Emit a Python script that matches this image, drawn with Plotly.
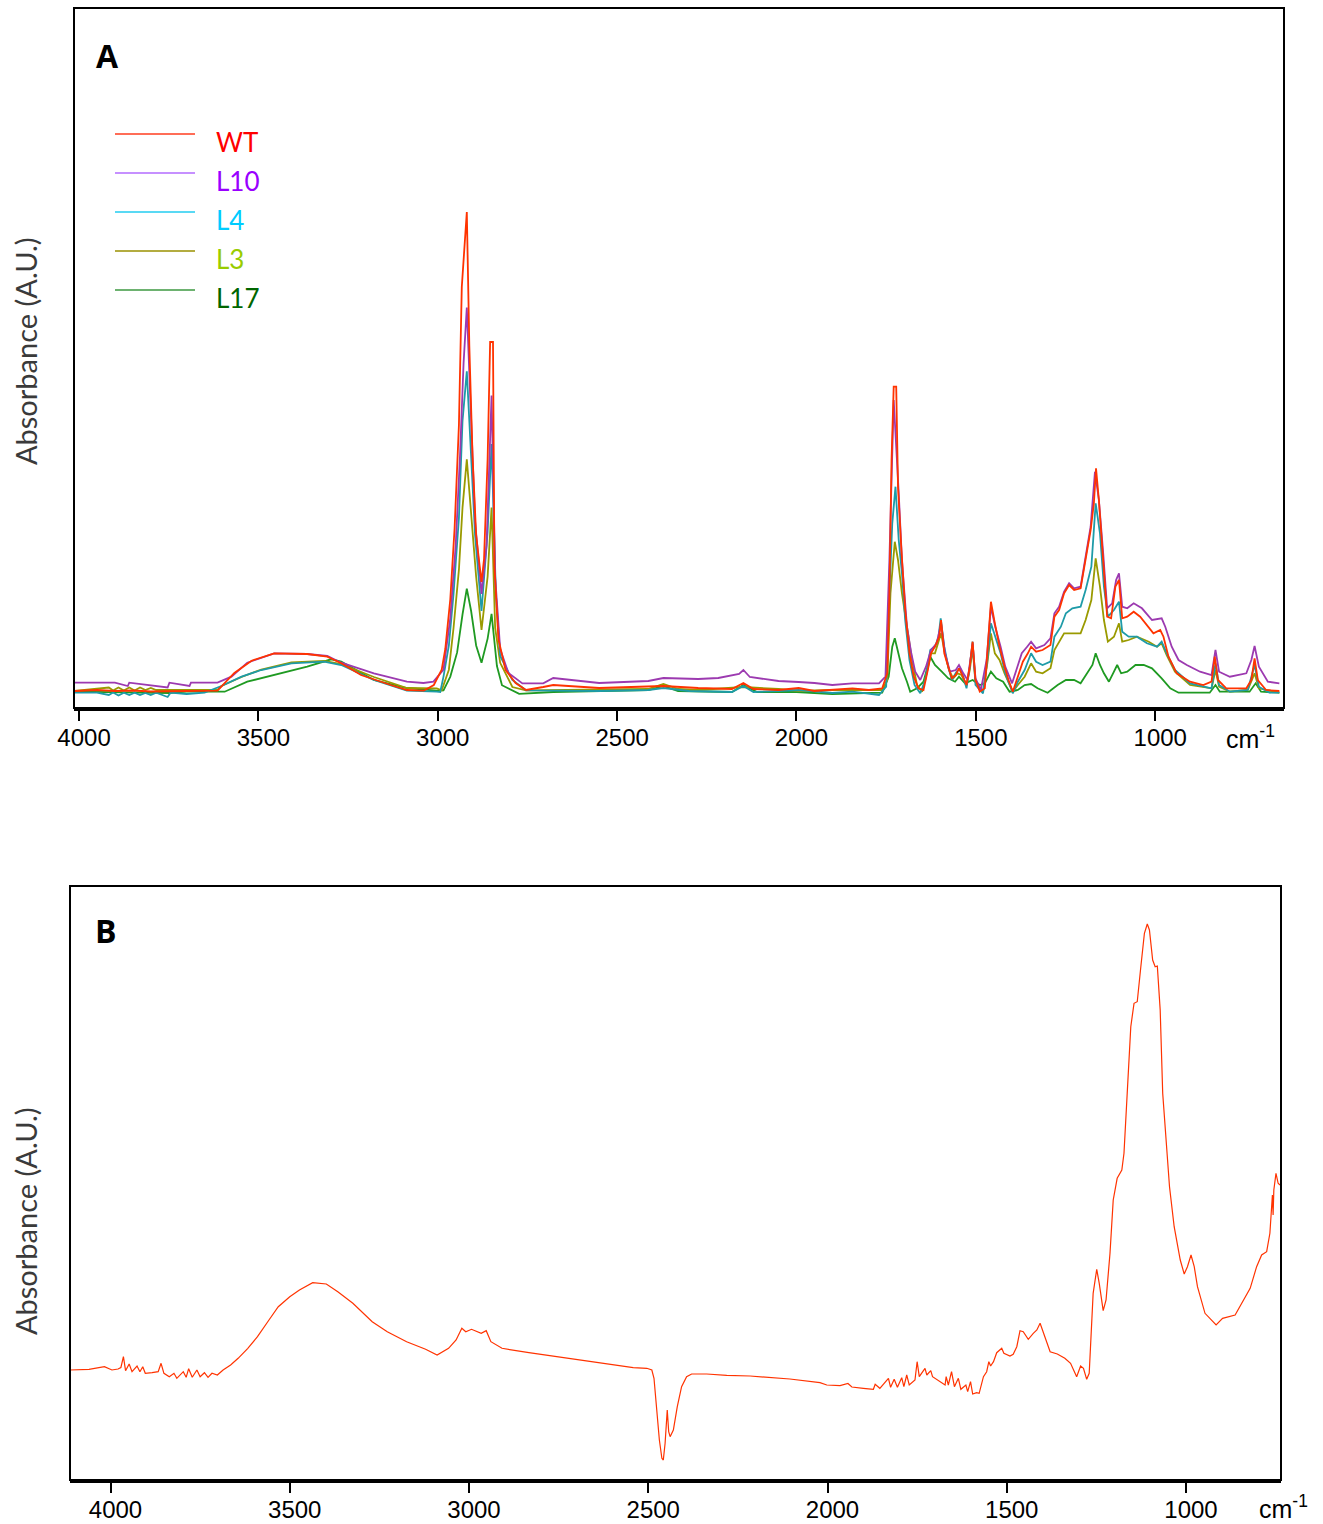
import plotly.graph_objects as go

# ---------------- Panel A data (wavenumber cm-1, absorbance A.U.) ----------------
WT = [(4012, 17), (3950, 18), (3900, 17), (3850, 17.5), (3800, 16.5), (3750, 17), (3700, 17), (3614, 17.3),
      (3567, 35), (3519, 47.3), (3456, 54.7), (3364, 54), (3308, 51.3), (3269, 44.7), (3214, 33), (3131, 23),
      (3086, 18), (3039, 17.3), (3011, 23), (2989, 38.3), (2979, 59), (2965, 109), (2953, 180), (2941, 283),
      (2933, 421), (2919, 496), (2912, 362), (2903, 252), (2893, 173), (2878, 126), (2871, 149), (2861, 249),
      (2854, 366), (2846, 366), (2842, 142), (2831, 69), (2811, 38), (2783, 25), (2754, 18), (2706, 21),
      (2678, 23), (2550, 20), (2413, 21), (2371, 22), (2274, 20), (2180, 19), (2148, 25), (2120, 19),
      (2050, 18), (1994, 20), (1950, 17), (1900, 18),
      (1844, 19.7), (1798, 18), (1761, 19.7), (1747, 34.7), (1741, 114.7), (1735, 248), (1729, 321.3),
      (1722, 321.3), (1717, 221.3), (1708, 161.3), (1697, 98), (1685, 54.7), (1673, 31.3), (1660, 19.7),
      (1646, 18), (1634, 38), (1625, 54.7), (1614, 61.3), (1602, 71.3), (1597, 88), (1588, 54.7),
      (1577, 41.3), (1567, 29.7), (1556, 33), (1547, 39.7), (1538, 33), (1526, 23), (1517, 41.3),
      (1509, 66.3), (1501, 28), (1489, 16.3), (1475, 19.7), (1468, 54.7), (1458, 106.3), (1447, 84.7),
      (1434, 61.3), (1420, 41.3), (1409, 28), (1397, 16.3), (1383, 31.3), (1369, 46.3), (1355, 54.7),
      (1346, 61.3), (1332, 56.3), (1314, 58), (1292, 63), (1281, 91.3), (1268, 98), (1254, 114.7),
      (1240, 123), (1226, 118), (1208, 119.7), (1194, 148), (1180, 178), (1171, 204.7), (1165, 239.7),
      (1157, 208), (1145, 148), (1134, 91.3), (1123, 89.7), (1111, 121.3), (1101, 128), (1092, 89.7),
      (1078, 91.3), (1060, 96.3), (1042, 91.3), (1023, 83), (1005, 74.7), (986, 78), (977, 71.3),
      (963, 51.3), (940, 34.7), (903, 26.3), (866, 23), (843, 26.3), (834, 51.3), (825, 28), (802, 19.7),
      (746, 19.7), (732, 28), (723, 49.7), (714, 28), (691, 18), (654, 17)]

L10 = [(4012, 25.3), (3900, 25.3), (3864, 22), (3860, 25.3), (3753, 20.5), (3748, 25.3), (3692, 22),
       (3688, 25.3), (3614, 25.3), (3575, 31.3), (3531, 45.3), (3456, 54.7), (3364, 54), (3308, 52),
       (3269, 45.3), (3178, 34.7), (3086, 26.3), (3040, 25), (3012, 26.3), (2984, 38.3), (2965, 90),
       (2950, 162.5), (2938, 252), (2928, 345), (2919, 400.4), (2909, 307.3), (2896, 187), (2878, 114),
       (2864, 162.5), (2850, 312.5), (2840, 131.4), (2826, 59), (2803, 35), (2764, 24.6), (2706, 24.6),
       (2678, 30), (2550, 25), (2413, 27), (2371, 30), (2274, 29), (2218, 30), (2160, 34), (2148, 38),
       (2130, 31), (2050, 27), (1994, 26), (1950, 25), (1900, 23),
       (1844, 24.7), (1770, 24.7), (1752, 31.3), (1741, 148), (1729, 308), (1715, 214.7), (1706, 148),
       (1692, 81.3), (1680, 54.7), (1669, 36.3), (1655, 28), (1639, 41.3), (1625, 58), (1609, 64.7),
       (1597, 84.7), (1586, 54.7), (1572, 36.3), (1556, 38), (1547, 43), (1535, 34.7), (1523, 28),
       (1509, 64.7), (1501, 29.7), (1486, 18), (1470, 48), (1458, 101.3), (1446, 81.3), (1431, 61.3),
       (1418, 41.3), (1399, 24.7), (1385, 41.3), (1372, 54.7), (1357, 61.3), (1346, 66.3), (1332, 59.7),
       (1309, 63), (1292, 69.7), (1281, 94.7), (1268, 101.3), (1254, 116.3), (1240, 124.7), (1226, 119.7),
       (1208, 121.3), (1194, 151.3), (1180, 181.3), (1168, 236.3), (1157, 208), (1145, 154.7),
       (1134, 99.7), (1120, 104.7), (1109, 128), (1101, 134.7), (1092, 101.3), (1078, 99.7),
       (1060, 104.7), (1037, 99.7), (1009, 88), (982, 89.7), (972, 81.3), (954, 61.3), (935, 48),
       (912, 43), (875, 36.3), (843, 33), (832, 58), (822, 36.3), (792, 31.3), (746, 34.7), (732, 48),
       (723, 62), (711, 41.3), (686, 26.3), (654, 24.7)]

L4 = [(4012, 15.3), (3950, 15.3), (3917, 13), (3905, 15.5), (3890, 12.5), (3875, 15.3), (3860, 13),
      (3845, 15.3), (3830, 13), (3815, 15), (3800, 13), (3785, 15.3), (3753, 11), (3745, 15.3),
      (3700, 14), (3650, 15.3), (3603, 22), (3547, 31.3), (3492, 38), (3408, 44.7), (3317, 46.3),
      (3269, 43), (3178, 28), (3086, 17.3), (3003, 16.3), (2993, 16), (2984, 31.4), (2969, 62.5),
      (2956, 114), (2941, 190), (2931, 287), (2919, 336.6), (2909, 266), (2896, 173), (2878, 97),
      (2861, 176.3), (2850, 264), (2838, 114), (2826, 52), (2792, 28), (2754, 17.7), (2678, 17.7),
      (2550, 17), (2413, 18), (2371, 20), (2300, 17), (2180, 16), (2148, 22), (2120, 16), (2050, 17),
      (1994, 18), (1900, 15),
      (1844, 16.3), (1770, 13), (1750, 21.3), (1741, 114.7), (1733, 184.7), (1724, 221.3), (1715, 168),
      (1706, 134.7), (1697, 88), (1685, 48), (1671, 23), (1655, 14.7), (1641, 28), (1627, 58),
      (1614, 61.3), (1604, 71.3), (1598, 89.7), (1588, 61.3), (1577, 41.3), (1567, 28), (1554, 36.3),
      (1544, 39.7), (1535, 31.3), (1526, 19.7), (1517, 41.3), (1509, 66.3), (1501, 23), (1480, 14.7),
      (1468, 48), (1458, 84.7), (1446, 71.3), (1431, 54.7), (1418, 34.7), (1397, 14.7), (1383, 26.3),
      (1364, 38), (1346, 54.7), (1332, 46.3), (1314, 43), (1292, 46.3), (1281, 71.3), (1263, 81.3),
      (1249, 94.7), (1231, 99.7), (1208, 101.3), (1194, 118), (1178, 141.3), (1166, 204.7),
      (1154, 174.7), (1143, 121.3), (1132, 91.3), (1115, 98), (1101, 106.3), (1092, 76.3),
      (1074, 71.3), (1051, 71.3), (1023, 64.7), (995, 61.3), (982, 66.3), (968, 54.7), (945, 38),
      (903, 24.7), (843, 19.7), (832, 44.7), (822, 23), (792, 16.3), (742, 18), (723, 43), (711, 21.3),
      (682, 15.3), (654, 15.3)]

L3 = [(4012, 17), (3980, 18), (3917, 20.5), (3905, 17.5), (3890, 20.5), (3875, 17.5), (3860, 20.5),
      (3845, 17.5), (3830, 20.5), (3815, 18), (3800, 20), (3785, 18), (3700, 18), (3614, 18),
      (3603, 22), (3547, 31), (3492, 38.5), (3408, 45.5), (3317, 47), (3269, 44), (3178, 31),
      (3086, 20), (3003, 19.7), (2989, 17.7), (2969, 38.3), (2956, 80), (2941, 138.3), (2931, 200.4),
      (2919, 248.7), (2907, 197), (2893, 131.4), (2878, 78), (2861, 131.4), (2850, 200.4), (2840, 80),
      (2826, 45.2), (2792, 21), (2754, 17.7), (2678, 18), (2550, 18), (2413, 19), (2371, 24),
      (2330, 19), (2274, 18), (2148, 21), (2050, 19), (1994, 17), (1900, 18),
      (1844, 18), (1761, 18), (1747, 28), (1738, 114.7), (1726, 166.3), (1717, 148), (1706, 114.7),
      (1692, 81.3), (1678, 48), (1664, 23), (1650, 16.3), (1637, 34.7), (1625, 54.7), (1614, 54.7),
      (1602, 68), (1597, 74.7), (1588, 58), (1575, 38), (1563, 29.7), (1551, 34.7), (1540, 33),
      (1526, 23), (1517, 38), (1509, 59.7), (1501, 26.3), (1480, 16.3), (1468, 44.7), (1458, 74.7),
      (1447, 54.7), (1434, 48), (1420, 34.7), (1397, 16.3), (1383, 23), (1364, 31.3), (1346, 44.7),
      (1332, 36.3), (1314, 34.7), (1292, 39.7), (1281, 58), (1254, 74.7), (1208, 74.7), (1194, 88),
      (1178, 108), (1166, 149.7), (1154, 121.3), (1143, 88), (1132, 66.3), (1115, 71.3), (1101, 84.7),
      (1092, 66.3), (1074, 68), (1051, 71.3), (1018, 66.3), (995, 61.3), (982, 64.7), (968, 53),
      (945, 36.3), (903, 23), (843, 19.7), (832, 38), (822, 21.3), (792, 16.3), (742, 18), (723, 34.7),
      (711, 19.7), (654, 15.3)]

L17 = [(4012, 16.3), (3750, 15), (3700, 16.3), (3594, 16.3), (3531, 26.3), (3456, 33), (3364, 41.3),
       (3297, 48.7), (3269, 46.3), (3178, 28), (3086, 20), (3003, 17.3), (2984, 17.7), (2965, 31.4),
       (2946, 55.6), (2931, 93.5), (2919, 119.4), (2907, 97), (2893, 62.5), (2878, 45.2), (2861, 69.4),
       (2850, 94.2), (2835, 42), (2821, 22.8), (2773, 14.2), (2678, 16), (2550, 17), (2413, 18),
       (2371, 22), (2330, 17), (2180, 16), (2148, 23), (2110, 16), (2000, 16), (1900, 14),
       (1844, 14.7), (1761, 15.3), (1743, 31.3), (1733, 61.3), (1726, 69.7), (1715, 54.7), (1706, 39.7),
       (1692, 26.3), (1683, 16.3), (1664, 19.7), (1646, 26.3), (1627, 51.3), (1614, 43), (1595, 36.3),
       (1577, 29.7), (1558, 26.3), (1547, 31.3), (1530, 24.7), (1509, 28), (1489, 23), (1475, 24.7),
       (1458, 36.3), (1443, 29.7), (1424, 26.3), (1406, 16.3), (1383, 18), (1364, 23), (1346, 24),
       (1328, 19.7), (1300, 15.3), (1272, 23), (1249, 28), (1226, 28), (1208, 24.7), (1189, 34.7),
       (1175, 43), (1166, 54.7), (1154, 43), (1143, 34.7), (1129, 26.3), (1115, 36.3), (1106, 43),
       (1095, 34.7), (1078, 36.3), (1055, 43), (1032, 43), (1009, 39.7), (982, 29.7), (958, 19.7),
       (935, 15.3), (848, 15.3), (832, 23), (820, 16.3), (737, 16.3), (720, 24.7), (705, 16.3),
       (654, 15.3)]

# ---------------- Panel B data ----------------
SPEC_B = [(4113, 110), (4060, 110.7), (4017, 113.3), (3996, 110), (3979, 111), (3971, 112.5), (3964, 123.3),
          (3958, 109.3), (3948, 116), (3940, 108.3), (3926, 114), (3918, 108.3), (3910, 113.3),
          (3903, 106.7), (3884, 107.3), (3867, 108.3), (3859, 116.7), (3851, 106.7), (3836, 103.3),
          (3823, 106.7), (3815, 101.7), (3797, 108.3), (3789, 102.7), (3782, 111.3), (3772, 102.7),
          (3759, 110), (3750, 103.3), (3738, 107.3), (3728, 102.7), (3717, 106.7), (3702, 105),
          (3686, 110), (3665, 115), (3644, 121.7), (3617, 131.7), (3590, 143.3), (3558, 160),
          (3532, 173.3), (3500, 183.3), (3473, 190), (3436, 197.3), (3398, 196), (3366, 188.3),
          (3324, 176.7), (3270, 158.3), (3228, 148.3), (3174, 138.3), (3121, 130.7), (3089, 125),
          (3057, 131.7), (3036, 140), (3020, 151.7), (3009, 148.3), (2993, 150.7), (2966, 146.7),
          (2952, 149.3), (2939, 138.3), (2908, 131.7), (2833, 127.3), (2726, 121.7), (2620, 116),
          (2542, 112.3), (2504, 111.7), (2490, 110), (2484, 101.7), (2476, 70), (2469, 40), (2462, 21.7),
          (2458, 20), (2453, 36.7), (2447, 70), (2443, 48.3), (2439, 43.3), (2430, 50), (2419, 73.3),
          (2407, 93.3), (2393, 103.3), (2379, 106), (2337, 106), (2281, 104.7), (2216, 104), (2105, 101),
          (2021, 97.3), (2002, 95), (1965, 94.3), (1943, 96.5), (1932, 93), (1900, 91.7), (1872, 90.7),
          (1867, 95.7), (1854, 91.7), (1830, 101.7), (1824, 92.7), (1814, 100.7), (1805, 92.7),
          (1793, 102.3), (1787, 93.3), (1779, 105), (1772, 95), (1756, 100), (1750, 118.3), (1744, 103.3),
          (1737, 106.7), (1728, 111.7), (1723, 105), (1712, 109.3), (1707, 103.3), (1686, 98.3),
          (1672, 95), (1669, 103.3), (1663, 95), (1654, 108.3), (1646, 93.3), (1635, 101.7), (1628, 90.7),
          (1614, 95), (1609, 88.3), (1601, 98.3), (1595, 86), (1584, 87.3), (1577, 86.7), (1565, 103.3),
          (1556, 108.3), (1550, 118.3), (1545, 114), (1537, 118.3), (1528, 127.3), (1514, 131.7),
          (1508, 126.7), (1491, 124), (1482, 125.7), (1472, 133.3), (1463, 149.3), (1454, 148.3),
          (1440, 140.7), (1426, 146.7), (1416, 150), (1407, 156.7), (1396, 145), (1379, 128.3),
          (1359, 126), (1338, 121.7), (1322, 116.7), (1305, 103.3), (1294, 114), (1286, 111.7),
          (1277, 100.7), (1270, 106.7), (1259, 186.7), (1249, 210.7), (1242, 196.7), (1231, 169.3),
          (1223, 180), (1212, 226.7), (1203, 280), (1192, 301.7), (1179, 310), (1173, 326.7),
          (1164, 386.7), (1154, 453.3), (1145, 476.7), (1136, 478.3), (1126, 513.3), (1116, 546.7),
          (1108, 556), (1102, 550), (1093, 520), (1086, 513.3), (1080, 514), (1072, 470), (1065, 386.7),
          (1056, 340), (1046, 293.3), (1033, 253.3), (1016, 220), (1005, 206), (996, 213.3), (986, 225),
          (977, 213.3), (968, 193.3), (947, 166.7), (916, 155), (898, 161.7), (863, 165), (845, 176.7),
          (821, 191.7), (803, 213.3), (789, 225), (775, 228.3), (766, 246.7), (759, 285), (757, 265),
          (755, 290), (749, 306.7), (743, 296.7), (738, 295)]

TICK_VALS = [4000, 3500, 3000, 2500, 2000, 1500, 1000]
TICK_TEXT = ["4000", "3500", "3000", "2500", "2000", "1500", "1000"]

SERIES_A = [  # name, data, trace colour, legend-line colour, legend-text colour
    ("WT", WT, "#FF3300", "#FF3D1F", "#FF0000"),
    ("L10", L10, "#9C3AB0", "#B36BFF", "#9900FF"),
    ("L4", L4, "#1E9BA8", "#22CCF0", "#00CCFF"),
    ("L3", L3, "#9A9A00", "#9A9000", "#99CC00"),
    ("L17", L17, "#1F9A22", "#3D9940", "#006600"),
]

W, H = 1323, 1524
fig = go.Figure()

# draw order: L17 first, WT on top
for name, data, col, _, _ in reversed(SERIES_A):
    fig.add_trace(go.Scatter(x=[p[0] for p in data], y=[p[1] for p in data], mode="lines",
                             line=dict(color=col, width=1.8), name=name, xaxis="x", yaxis="y",
                             showlegend=False, hoverinfo="skip"))

fig.add_trace(go.Scatter(x=[p[0] for p in SPEC_B], y=[p[1] for p in SPEC_B], mode="lines",
                         line=dict(color="#FF3300", width=1.2), xaxis="x2", yaxis="y2",
                         showlegend=False, hoverinfo="skip"))

tickfont = dict(family="Liberation Sans, Arial", size=24, color="#000000")
xcommon = dict(tickvals=TICK_VALS, ticktext=TICK_TEXT, ticks="outside", ticklen=10, tickwidth=2,
               tickcolor="#000", showline=True, linewidth=3, linecolor="#000", showgrid=False,
               zeroline=False, tickfont=tickfont, fixedrange=True, automargin=False,
               ticklabelshift=-5, ticklabelstandoff=-4)
ycommon = dict(showticklabels=False, ticks="", showgrid=False, zeroline=False, showline=False,
               fixedrange=True, automargin=False)

fig.update_layout(
    width=W, height=H, margin=dict(l=0, r=0, t=0, b=0, pad=0, autoexpand=False),
    paper_bgcolor="white", plot_bgcolor="white", showlegend=False,
    xaxis=dict(domain=[74 / W, 1284 / W], range=[4014, 641], anchor="y", **xcommon),
    yaxis=dict(domain=[1 - 708 / H, 1 - 8 / H], range=[0, 700], anchor="x", **ycommon),
    xaxis2=dict(domain=[70 / W, 1281 / W], range=[4113, 735], anchor="y2", **xcommon),
    yaxis2=dict(domain=[1 - 1480 / H, 1 - 886 / H], range=[0, 594], anchor="x2", **ycommon),
)

# panel frames
for xr, yr in (("x domain", "y domain"), ("x2 domain", "y2 domain")):
    fig.add_shape(type="rect", xref=xr, yref=yr, x0=0, x1=1, y0=0, y1=1,
                  line=dict(color="#000", width=2), fillcolor="rgba(0,0,0,0)", layer="above")

ann = []
label_font = dict(family="Lato, Open Sans, sans-serif", size=29, color="#3a3a3a")
for yc in (351, 1221):
    ann.append(dict(text="Absorbance (A.U.)", x=25 / W, y=1 - yc / H, xref="paper", yref="paper",
                    textangle=-90, showarrow=False, font=label_font, xanchor="center", yanchor="middle"))
for txt, xc, yc in (("A", 108, 55), ("B", 106, 930)):
    ann.append(dict(text="<b>%s</b>" % txt, x=xc / W, y=1 - yc / H, xref="paper", yref="paper",
                    showarrow=False, font=dict(family="Open Sans, Lato, sans-serif", size=32, color="#000"),
                    xanchor="center", yanchor="middle"))
for xc, yc in ((1250, 737), (1283, 1507)):
    ann.append(dict(text="cm<sup>-1</sup>", x=xc / W, y=1 - yc / H, xref="paper", yref="paper",
                    showarrow=False, font=dict(family="Liberation Sans, Arial", size=25, color="#000"),
                    xanchor="center", yanchor="middle"))

# manual legend
leg_y = [134, 173, 212, 251, 290]
for (name, _, _, lcol, tcol), ly in zip(SERIES_A, leg_y):
    fig.add_shape(type="line", xref="paper", yref="paper", x0=115 / W, x1=195 / W,
                  y0=1 - ly / H, y1=1 - ly / H, line=dict(color=lcol, width=1.5))
    ann.append(dict(text=name, x=214 / W, y=1 - (ly + 8) / H, xref="paper", yref="paper",
                    showarrow=False, xanchor="left", yanchor="middle",
                    font=dict(family="Lato, Open Sans, sans-serif", size=26, color=tcol)))

fig.update_layout(annotations=ann)
fig.write_html("out.html")
